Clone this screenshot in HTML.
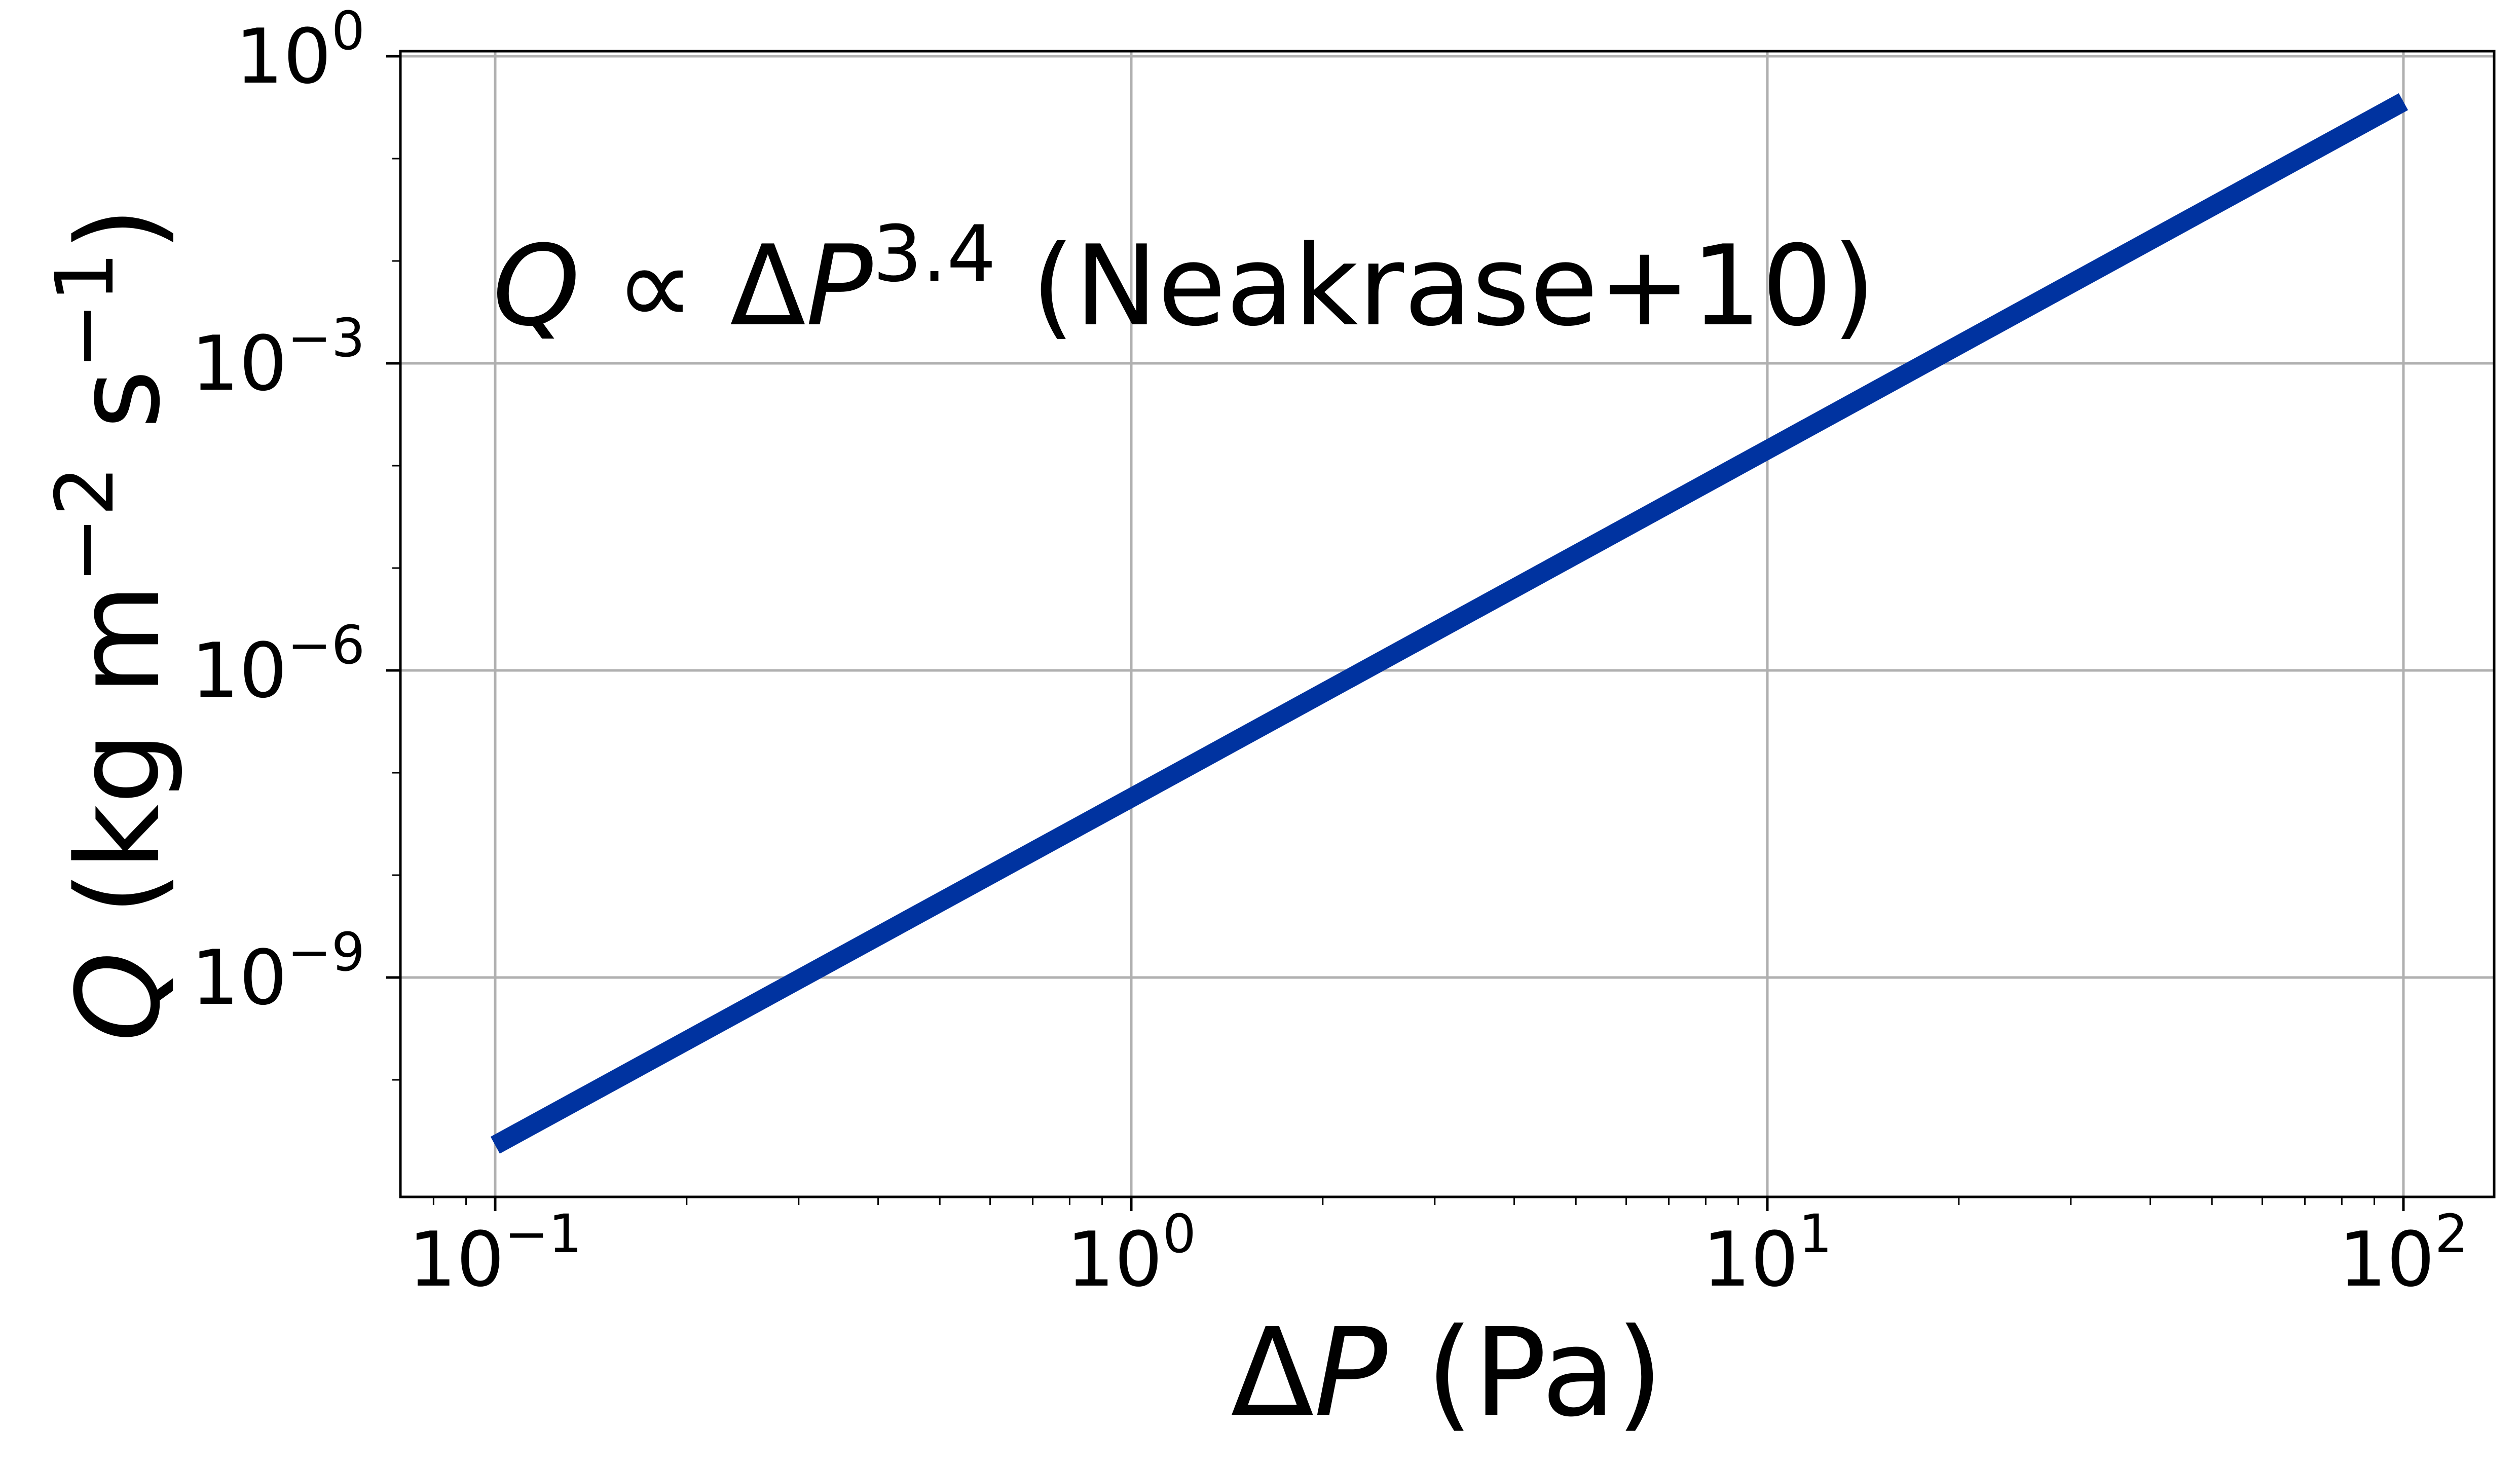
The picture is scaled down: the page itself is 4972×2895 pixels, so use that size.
<!DOCTYPE html>
<html><head><meta charset="utf-8"><style>
html,body{margin:0;padding:0;background:#fff;}
svg{display:block;font-family:"DejaVu Sans","Liberation Sans",sans-serif;}
</style></head><body>
<svg id="chart" width="4972" height="2895" viewBox="0 0 4972 2895" xmlns="http://www.w3.org/2000/svg">
<rect width="4972" height="2895" fill="#fff"/>
<g id="grid"></g>
<g id="series"></g>
<rect x="790" y="101" width="4131" height="2261" fill="none" stroke="#000" stroke-width="5"/>
<g id="ticks"></g>
<text x="972" y="640" font-size="219" fill="#000"><tspan font-style="italic">Q</tspan> ∝ Δ<tspan font-style="italic">P</tspan><tspan font-size="153" dy="-86">3.4</tspan><tspan dy="86"> (Neakrase+10)</tspan></text>
<text x="2855" y="2792" font-size="240" text-anchor="middle" fill="#000">Δ<tspan font-style="italic">P</tspan> (Pa)</text>
<text transform="translate(312,1232) rotate(-90)" font-size="226" text-anchor="middle" fill="#000"><tspan font-style="italic">Q</tspan> (kg m<tspan font-size="158" dy="-90">−2</tspan><tspan dy="90"> s</tspan><tspan font-size="158" dy="-90">−1</tspan><tspan dy="90">)</tspan></text>
</svg>
<script>
const pressures = [0.1, 1, 10, 100];
const fluxes = [2.3e-11, 5.7e-8, 1.43e-4, 0.36];
const xTickExps = [-1, 0, 1, 2];
const yTickExps = [0, -3, -6, -9];
const yMinorExps = [-1, -2, -4, -5, -7, -8, -10];

const NS = "http://www.w3.org/2000/svg";
const L = 790, R = 4921, T = 101, B = 2362;
function xs(v){ return 977 + (Math.log10(v) + 1) * 1255; }
function ys(v){ return 111 - Math.log10(v) * 202; }
function mk(tag, attrs, parent){ const e = document.createElementNS(NS, tag); for (const k in attrs) e.setAttribute(k, attrs[k]); parent.appendChild(e); return e; }

const grid = document.getElementById('grid');
const ticks = document.getElementById('ticks');
const series = document.getElementById('series');

xTickExps.forEach(e => {
  const x = xs(Math.pow(10, e));
  const g = mk('line', {x1:x, x2:x, y1:T, y2:B, stroke:'#b0b0b0', 'stroke-width':5}, grid);
  
  
  const t = mk('line', {x1:x, x2:x, y1:B, y2:B+28, stroke:'#000', 'stroke-width':5}, ticks);
  
  
  const lb = mk('text', {x:x, y:2537, 'font-size':149, 'text-anchor':'middle', fill:'#000'}, ticks);
  
  
  lb.innerHTML = '10<tspan font-size="104" dy="-66">' + (e < 0 ? '−' + (-e) : e) + '</tspan>';
});
for (let d = -2; d <= 2; d++) {
  for (let m = 2; m <= 9; m++) {
    const v = m * Math.pow(10, d);
    const x = xs(v);
    if (x < L || x > R) continue;
    const t = mk('line', {x1:x, x2:x, y1:B, y2:B+16, stroke:'#000', 'stroke-width':3}, ticks);
    
    
  }
}
yTickExps.forEach(e => {
  const y = ys(Math.pow(10, e));
  const g = mk('line', {x1:L, x2:R, y1:y, y2:y, stroke:'#b0b0b0', 'stroke-width':5}, grid);
  
  
  const t = mk('line', {x1:L-28, x2:L, y1:y, y2:y, stroke:'#000', 'stroke-width':5}, ticks);
  
  
  const lb = mk('text', {x:720, y:y+52, 'font-size':149, 'text-anchor':'end', fill:'#000'}, ticks);
  
  
  lb.innerHTML = '10<tspan font-size="104" dy="-66">' + (e < 0 ? '−' + (-e) : e) + '</tspan>';
});
yMinorExps.forEach(e => {
  const y = ys(Math.pow(10, e));
  const t = mk('line', {x1:L-16, x2:L, y1:y, y2:y, stroke:'#000', 'stroke-width':3}, ticks);
  
  
});
const pts = pressures.map((p, i) => xs(p) + ',' + ys(fluxes[i])).join(' ');
const line = mk('polyline', {points:pts, fill:'none', stroke:'#0033a0', 'stroke-width':38}, series);


</script>
</body></html>
